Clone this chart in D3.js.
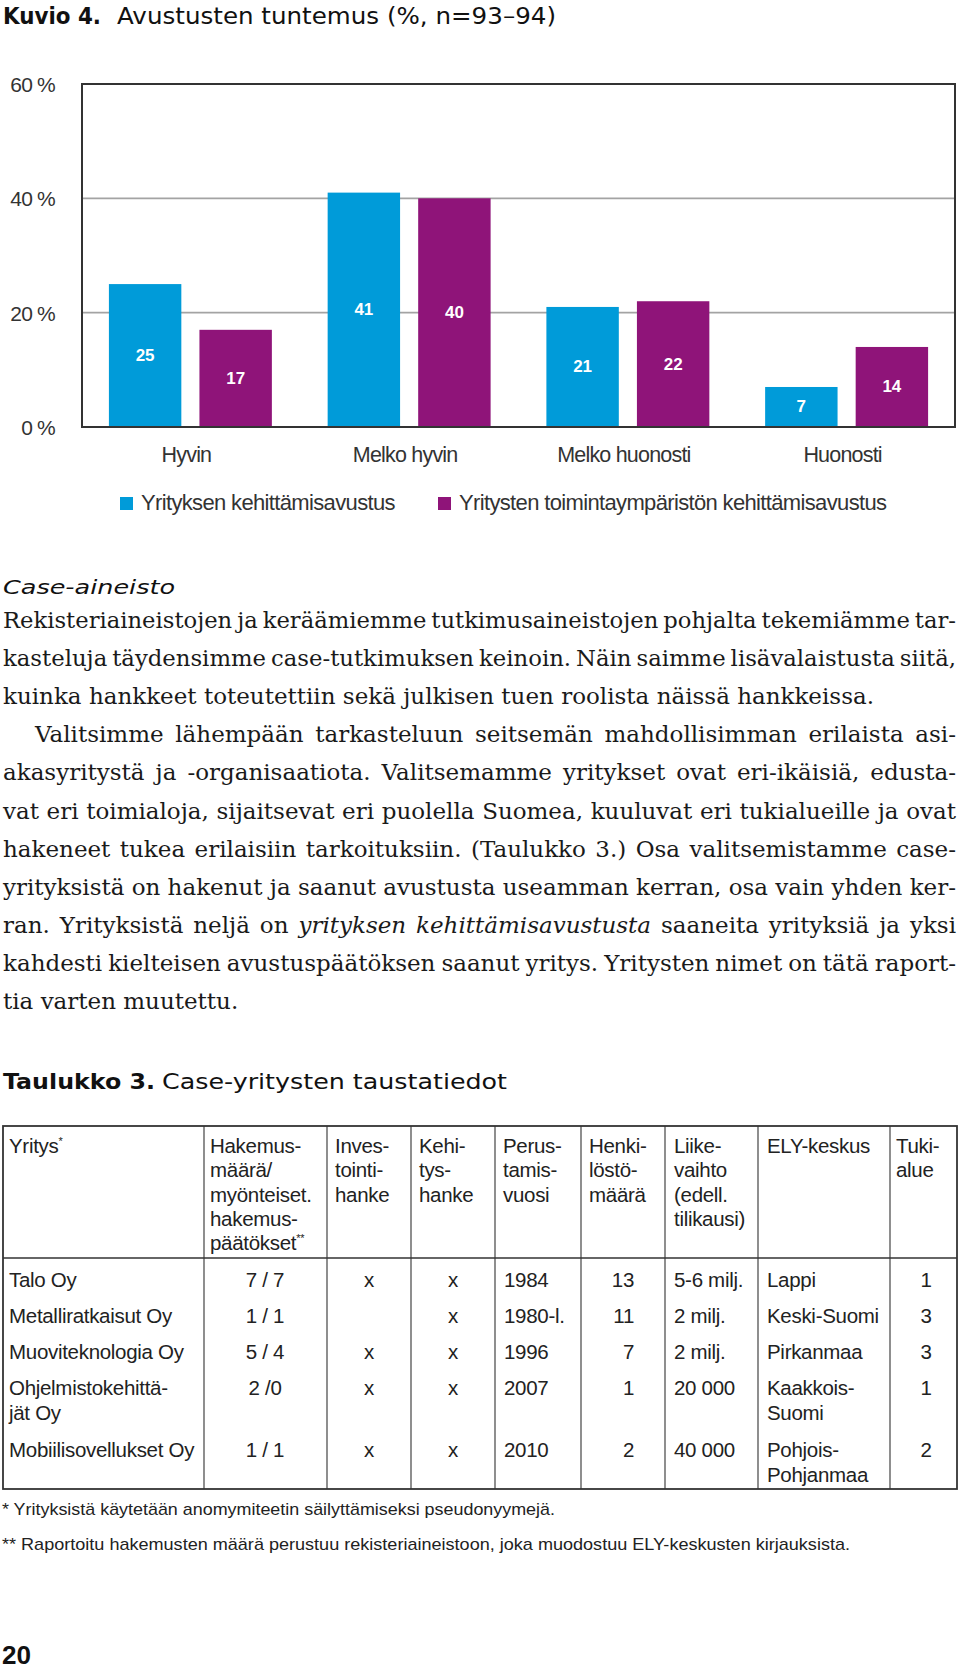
<!DOCTYPE html>
<html><head><meta charset="utf-8">
<script src="https://cdn.jsdelivr.net/npm/d3@7"></script>
<style>
body{margin:0;background:#fff;}
svg{display:block;}
</style></head><body>
<svg id="page" width="960" height="1670"></svg>
<script>
// ---------- DATA ----------
const categories = ["Hyvin","Melko hyvin","Melko huonosti","Huonosti"];
const seriesNames = ["Yrityksen kehittämisavustus","Yritysten toimintaympäristön kehittämisavustus"];
const seriesA = [25,41,21,7];
const seriesB = [17,40,22,14];
const yTicks = [0,20,40,60];
const colors = ["#009bd9","#8f1479"];

const bodyLines = [
  {t:"Rekisteriaineistojen ja keräämiemme tutkimusaineistojen pohjalta tekemiämme tar-", j:true},
  {t:"kasteluja täydensimme case-tutkimuksen keinoin. Näin saimme lisävalaistusta siitä,", j:true},
  {t:"kuinka hankkeet toteutettiin sekä julkisen tuen roolista näissä hankkeissa.", j:false},
  {t:"Valitsimme lähempään tarkasteluun seitsemän mahdollisimman erilaista asi-", j:true, indent:true},
  {t:"akasyritystä ja -organisaatiota. Valitsemamme yritykset ovat eri-ikäisiä, edusta-", j:true},
  {t:"vat eri toimialoja, sijaitsevat eri puolella Suomea, kuuluvat eri tukialueille ja ovat", j:true},
  {t:"hakeneet tukea erilaisiin tarkoituksiin. (Taulukko 3.) Osa valitsemistamme case-", j:true},
  {t:"yrityksistä on hakenut ja saanut avustusta useamman kerran, osa vain yhden ker-", j:true},
  {t:"ran. Yrityksistä neljä on *yrityksen kehittämisavustusta* saaneita yrityksiä ja yksi", j:true},
  {t:"kahdesti kielteisen avustuspäätöksen saanut yritys. Yritysten nimet on tätä raport-", j:true},
  {t:"tia varten muutettu.", j:false}
];

const tableHeaders = [
  ["Yritys^*"],
  ["Hakemus-","määrä/","myönteiset.","hakemus-","päätökset^**"],
  ["Inves-","tointi-","hanke"],
  ["Kehi-","tys-","hanke"],
  ["Perus-","tamis-","vuosi"],
  ["Henki-","löstö-","määrä"],
  ["Liike-","vaihto","(edell.","tilikausi)"],
  ["ELY-keskus"],
  ["Tuki-","alue"]
];
const companies = ["Talo Oy","Metalliratkaisut Oy","Muoviteknologia Oy","Ohjelmistokehittä-|jät Oy","Mobiilisovellukset Oy"];
const applications = ["7 / 7","1 / 1","5 / 4","2 /0","1 / 1"];
const investment = ["x","","x","x","x"];
const development = ["x","x","x","x","x"];
const founded = ["1984","1980-l.","1996","2007","2010"];
const staff = ["13","11","7","1","2"];
const turnover = ["5-6 milj.","2 milj.","2 milj.","20 000","40 000"];
const elyCentre = ["Lappi","Keski-Suomi","Pirkanmaa","Kaakkois-|Suomi","Pohjois-|Pohjanmaa"];
const supportArea = ["1","3","3","1","2"];
const footnotes = [
  "* Yrityksistä käytetään anomymiteetin säilyttämiseksi pseudonyymejä.",
  "** Raportoitu hakemusten määrä perustuu rekisteriaineistoon, joka muodostuu ELY-keskusten kirjauksista."
];

// ---------- STYLE ----------
const sans = "'Liberation Sans', Arial, Helvetica, sans-serif";
const square = "'DejaVu Sans', sans-serif";
const serif = "'DejaVu Serif', serif";
const svg = d3.select("#page");

function stretch(sel, w){ sel.attr("textLength", w).attr("lengthAdjust","spacingAndGlyphs"); return sel; }

// ---------- TITLE ----------
stretch(svg.append("text").attr("x",3).attr("y",24).attr("font-family",square).attr("font-weight","bold")
  .attr("font-size",23).attr("fill","#111").text("Kuvio 4."), 98);
stretch(svg.append("text").attr("x",117).attr("y",24).attr("font-family",square)
  .attr("font-size",23).attr("fill","#111").text("Avustusten tuntemus (%, n=93–94)"), 439);

// ---------- CHART ----------
const x0 = d3.scaleBand().domain(categories).range([82,955]).paddingInner(0.255).paddingOuter(0.123);
const x1 = d3.scaleBand().domain([0,1]).range([0,x0.bandwidth()]).paddingInner(0.2);
const y = d3.scaleLinear().domain([0,60]).range([427,84]);

const chart = svg.append("g");
chart.selectAll(".grid").data(yTicks.filter(d=>d>0 && d<60)).join("line")
  .attr("x1",82).attr("x2",955).attr("y1",d=>y(d)).attr("y2",d=>y(d))
  .attr("stroke","#a3a3a3").attr("stroke-width",1.6);

const rows = categories.map((c,i)=>({c, v:[seriesA[i], seriesB[i]]}));
const grp = chart.selectAll(".grp").data(rows).join("g").attr("transform",d=>`translate(${x0(d.c)},0)`);
grp.selectAll("rect").data(d=>d.v.map((v,k)=>({v,k}))).join("rect")
  .attr("x",d=>x1(d.k)).attr("width",x1.bandwidth())
  .attr("y",d=>y(d.v)).attr("height",d=>y(0)-y(d.v))
  .attr("fill",d=>colors[d.k]);
grp.selectAll("text").data(d=>d.v.map((v,k)=>({v,k}))).join("text")
  .attr("x",d=>x1(d.k)+x1.bandwidth()/2).attr("y",d=>(y(d.v)+y(0))/2)
  .attr("text-anchor","middle").attr("dominant-baseline","central")
  .attr("font-family",sans).attr("font-weight","bold").attr("font-size",17).attr("fill","#fff")
  .text(d=>d.v);

chart.append("rect").attr("x",82).attr("y",y(60)).attr("width",955-82).attr("height",y(0)-y(60))
  .attr("fill","none").attr("stroke","#333").attr("stroke-width",2);

const yAxis = chart.append("g").attr("transform","translate(82,0)")
  .call(d3.axisLeft(y).tickValues(yTicks).tickFormat(d=>d+" %").tickSize(0).tickPadding(27));
yAxis.select(".domain").remove();
yAxis.selectAll("text").attr("font-family",sans).attr("font-size",21).attr("fill","#333")
  .attr("letter-spacing",-0.8).attr("dy","0.35em");

chart.selectAll(".cat").data(categories).join("text")
  .attr("x",d=>x0(d)+x0.bandwidth()/2-4).attr("y",462)
  .attr("text-anchor","middle").attr("font-family",sans).attr("font-size",21.5)
  .attr("letter-spacing",-0.8).attr("fill","#333").text(d=>d);

// legend
const legendX = [120,438];
const leg = chart.selectAll(".leg").data(seriesNames).join("g")
  .attr("transform",(d,i)=>`translate(${legendX[i]},497)`);
leg.append("rect").attr("width",13).attr("height",13).attr("fill",(d,i)=>colors[i]);
leg.append("text").attr("x",21).attr("y",13).attr("font-family",sans).attr("font-size",22)
  .attr("letter-spacing",-0.65).attr("fill","#333").text(d=>d);

// ---------- BODY TEXT ----------
stretch(svg.append("text").attr("x",3).attr("y",594).attr("font-family",square).attr("font-style","italic")
  .attr("font-size",20).attr("fill","#111").text("Case-aineisto"), 172);

const bodySize = 23;
const measurer = svg.append("text").attr("font-family",serif).attr("font-size",bodySize)
  .attr("visibility","hidden");
function wlen(w, it){ measurer.attr("font-style", it?"italic":"normal").text(w); return measurer.node().getComputedTextLength(); }

const body = svg.append("g").attr("font-family",serif).attr("font-size",bodySize).attr("fill","#1a1a1a");
const L = 3, R = 956, minGap = 5;
const spaceW = wlen("a a",false) - wlen("aa",false);
bodyLines.forEach((ln,i)=>{
  const by = 628 + i*38.1;
  let it = false;
  const words = ln.t.split(" ").map(w=>{
    let s = w;
    if (s.startsWith("*")) { s = s.slice(1); it = true; }
    const cur = it;
    if (s.endsWith("*")) { s = s.slice(0,-1); it = false; }
    return {s, it:cur};
  });
  const xs = ln.indent ? 35 : L;
  let widths = words.map(w=>wlen(w.s, w.it));
  const natural = widths.map(d=>d);
  const sum = d3.sum(widths);
  let gap = ln.j ? (R - xs - sum)/(words.length-1) : spaceW;
  if (ln.j && gap < minGap) {
    const f = (R - xs - minGap*(words.length-1))/sum;
    widths = widths.map(d=>d*f);
    gap = minGap;
  }
  const t = body.append("text").attr("y",by);
  let cx = xs;
  words.forEach((w,k)=>{
    const ts = t.append("tspan").attr("x",cx).attr("font-style",w.it?"italic":"normal").text(w.s);
    if (widths[k] !== natural[k]) ts.attr("textLength",widths[k]).attr("lengthAdjust","spacingAndGlyphs");
    cx += widths[k] + gap;
  });
});

// ---------- TABLE ----------
stretch(svg.append("text").attr("x",3).attr("y",1089).attr("font-family",square).attr("font-weight","bold")
  .attr("font-size",22).attr("fill","#111").text("Taulukko 3."), 152);
stretch(svg.append("text").attr("x",162).attr("y",1089).attr("font-family",square)
  .attr("font-size",22).attr("fill","#111").text("Case-yritysten taustatiedot"), 345);

const colEdges = [3,204,327,411,495,581,665,758,890,957];
const tTop = 1126, tSep = 1258, tBot = 1489;
const table = svg.append("g");
table.selectAll(".vl").data(colEdges.slice(1,-1)).join("line")
  .attr("x1",d=>d).attr("x2",d=>d).attr("y1",tTop).attr("y2",tBot)
  .attr("stroke","#444").attr("stroke-width",1.2);
table.append("line").attr("x1",3).attr("x2",957).attr("y1",tSep).attr("y2",tSep)
  .attr("stroke","#333").attr("stroke-width",1.6);
table.append("rect").attr("x",3).attr("y",tTop).attr("width",954).attr("height",tBot-tTop)
  .attr("fill","none").attr("stroke","#333").attr("stroke-width",1.8);

const tfont = 20.5;
const headX = [9,210,335,419,503,589,674,767,896];
tableHeaders.forEach((lines,c)=>{
  lines.forEach((ln,r)=>{
    const parts = ln.split("^");
    const t = table.append("text").attr("x",headX[c]).attr("y",1153 + r*24.3)
      .attr("font-family",sans).attr("font-size",tfont).attr("letter-spacing",-0.3).attr("fill","#222");
    t.append("tspan").text(parts[0]);
    if (parts[1]) t.append("tspan").attr("dy",-8).attr("font-size",11).text(parts[1]);
  });
});

const columns = [companies, applications, investment, development, founded, staff, turnover, elyCentre, supportArea];
const colPos = [{x:9,a:"start"},{x:265,a:"middle"},{x:369,a:"middle"},{x:453,a:"middle"},{x:504,a:"start"},
                {x:634,a:"end"},{x:674,a:"start"},{x:767,a:"start"},{x:926,a:"middle"}];
const rowY = [1280,1316,1352,1388,1450];
columns.forEach((col,c)=>{
  col.forEach((val,r)=>{
    String(val).split("|").forEach((ln,k)=>{
      table.append("text").attr("x",colPos[c].x).attr("y",rowY[r]+7+k*25)
        .attr("text-anchor",colPos[c].a).attr("font-family",sans).attr("font-size",tfont)
        .attr("letter-spacing",-0.3).attr("fill","#222").text(ln);
    });
  });
});

// footnotes
const fnY = [1515,1550];
footnotes.forEach((f,i)=>{
  stretch(svg.append("text").attr("x",2).attr("y",fnY[i]).attr("font-family",sans).attr("font-size",17)
    .attr("fill","#222").text(f), i===0?553:848);
});

// page number
stretch(svg.append("text").attr("x",2).attr("y",1664).attr("font-family",sans).attr("font-weight","bold")
  .attr("font-size",26).attr("fill","#111").text("20"), 29);
</script>
</body></html>
